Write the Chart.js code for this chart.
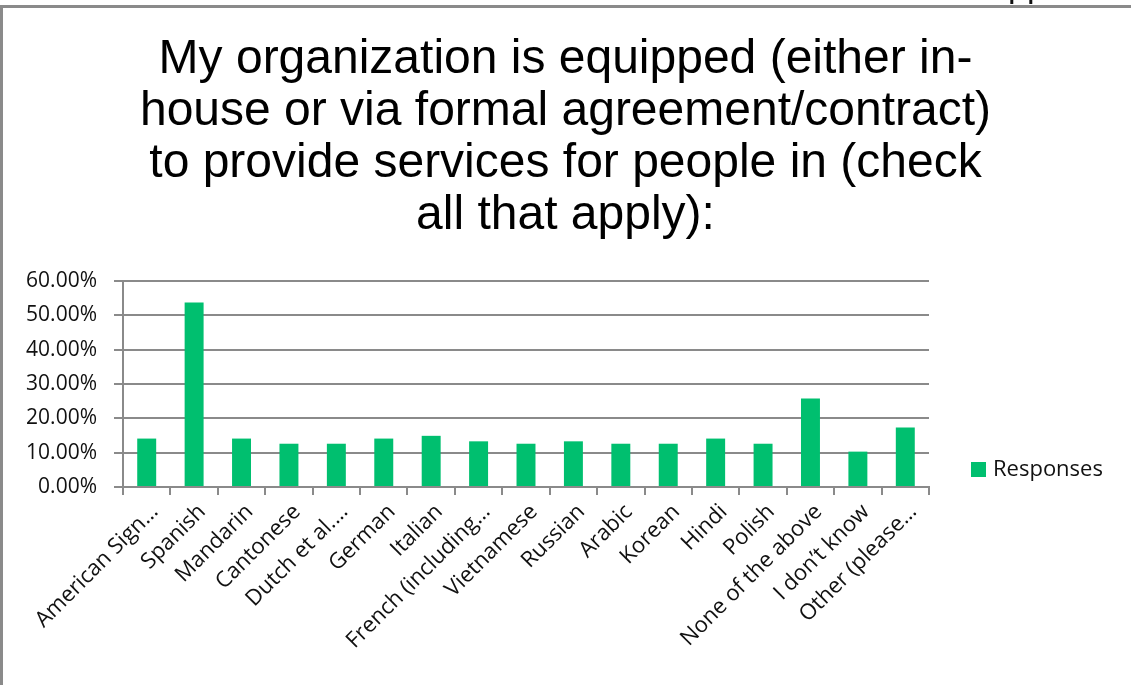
<!DOCTYPE html>
<html>
<head>
<meta charset="utf-8">
<script src="https://cdn.jsdelivr.net/npm/chart.js@4.4.1/dist/chart.umd.min.js"></script>
<style>
  html, body { margin: 0; padding: 0; background: #fff; }
  #wrap { position: relative; width: 1131px; height: 685px; overflow: hidden; }
  #chart { position: absolute; left: 0; top: 0; }
  .edge { position: absolute; background: #8a8a8a; }
  #edgeTop { left: 0; top: 5px; width: 1131px; height: 3px; }
  #edgeLeft { left: 0; top: 5px; width: 3px; height: 680px; }
  #clip { position: absolute; left: 1008px; top: 0; width: 40px; height: 4px; overflow: hidden; }
  #clip span { position: absolute; left: 0; bottom: 0; font: 34px "Liberation Sans", Arial, sans-serif; line-height: 34px; color: #111; }
</style>
</head>
<body>
<div id="wrap">
  <canvas id="chart" width="1131" height="685"></canvas>
  <div id="edgeTop" class="edge"></div>
  <div id="edgeLeft" class="edge"></div>
  <div id="clip"><span>pp</span></div>
</div>
<script>
const titleLines = [
    'My organization is equipped (either in-',
    'house or via formal agreement/contract)',
    'to provide services for people in (check',
    'all that apply):'
];

const languages = [
    'American Sign…', 'Spanish', 'Mandarin', 'Cantonese', 'Dutch et al.…',
    'German', 'Italian', 'French (including…', 'Vietnamese', 'Russian',
    'Arabic', 'Korean', 'Hindi', 'Polish', 'None of the above',
    'I don’t know', 'Other (please…'
];

const responses = [
    14.1, 53.7, 14.1, 12.6, 12.6,
    14.1, 14.9, 13.3, 12.6, 13.3,
    12.6, 12.6, 14.1, 12.6, 25.8,
    10.3, 17.3
];

const seriesName = 'Responses';
const barColor = '#00BF6F';
const axisGray = '#8a8a8a';
const labelFont = '"Open Sans", "Noto Sans", sans-serif';

// legend drawn beside the bottom of the plot, Excel style
const sideLegend = {
    id: 'sideLegend',
    afterDraw(chart) {
        const ds = chart.data.datasets[0];
        const area = chart.chartArea;
        const ctx = chart.ctx;
        ctx.save();
        ctx.fillStyle = ds.backgroundColor;
        ctx.fillRect(area.right + 42, area.bottom - 25, 15, 15);
        ctx.fillStyle = '#111';
        ctx.font = '22px ' + labelFont;
        ctx.textBaseline = 'middle';
        ctx.textAlign = 'left';
        ctx.fillText(ds.label, area.right + 64, area.bottom - 17);
        ctx.restore();
    }
};

new Chart(document.getElementById('chart'), {
    type: 'bar',
    data: {
        labels: languages,
        datasets: [{
            label: seriesName,
            data: responses,
            backgroundColor: barColor,
            borderWidth: 0,
            categoryPercentage: 1.0,
            barPercentage: 0.4
        }]
    },
    options: {
        responsive: false,
        animation: false,
        layout: { padding: 0 },
        plugins: {
            legend: { display: false },
            tooltip: { enabled: false },
            title: {
                display: true,
                text: titleLines,
                color: '#000',
                font: { family: '"Liberation Sans", Arial, sans-serif', size: 48, weight: 'normal', lineHeight: 1.083 },
                padding: { top: 34, bottom: 39 }
            }
        },
        scales: {
            x: {
                offset: true,
                grid: {
                    offset: true,
                    drawOnChartArea: false,
                    color: axisGray,
                    lineWidth: 2,
                    tickLength: 8
                },
                border: { color: axisGray, width: 2 },
                ticks: {
                    color: '#111',
                    font: { family: labelFont, size: 22 },
                    minRotation: 45,
                    maxRotation: 45,
                    autoSkip: false,
                    padding: 4,
                    labelOffset: 8
                },
                afterFit(scale) { scale.height = 198; }
            },
            y: {
                min: 0,
                max: 60,
                grid: { color: axisGray, lineWidth: 2, tickLength: 9 },
                border: { color: axisGray, width: 2 },
                ticks: {
                    stepSize: 10,
                    color: '#111',
                    font: { family: labelFont, size: 21 },
                    padding: 17,
                    callback: v => v.toFixed(2) + '%'
                },
                afterFit(scale) { scale.width = 123; }
            },
            // empty right-hand axis that keeps room for the legend
            legendSpace: {
                type: 'linear',
                position: 'right',
                grid: { display: false },
                border: { display: false },
                ticks: { display: false },
                afterFit(scale) { scale.width = 202; }
            }
        }
    },
    plugins: [sideLegend]
});
</script>
</body>
</html>
